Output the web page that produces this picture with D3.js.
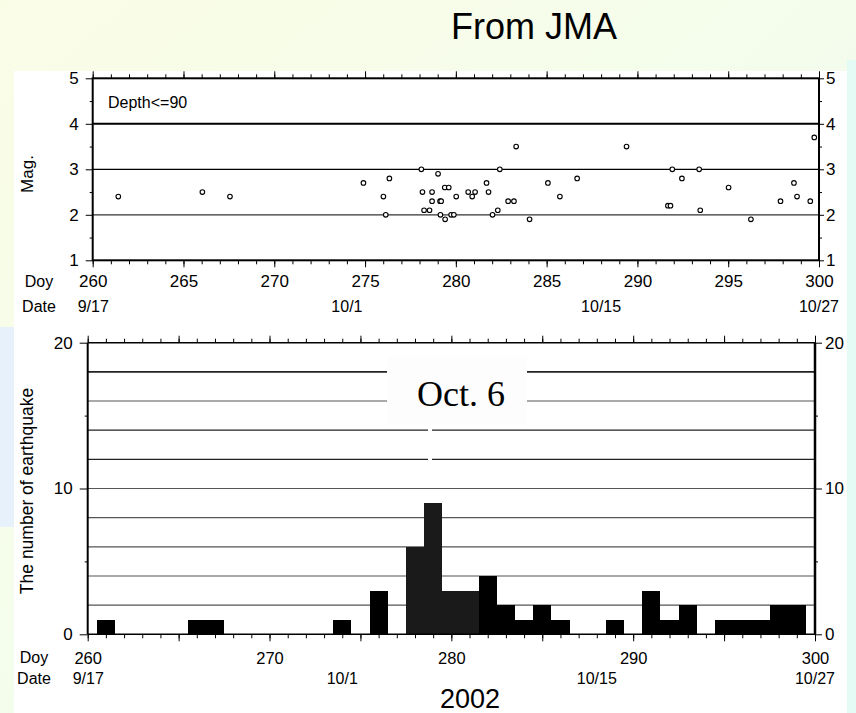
<!DOCTYPE html>
<html>
<head>
<meta charset="utf-8">
<script src="https://cdn.jsdelivr.net/npm/d3@7"></script>
<style>
  body { margin: 0; overflow: hidden; }
  svg { display: block; font-family: "Liberation Sans", Arial, sans-serif; }
</style>
</head>
<body>
<div id="chart"></div>
<script>
// events with depth <= 90 km (day of year, magnitude)
const quakeDoy = [261.41, 266.04, 267.56, 274.91, 276.01, 276.14, 276.34,
  278.10, 278.16, 278.25, 278.55, 278.69, 278.69, 279.02, 279.13, 279.19,
  279.15, 279.39, 279.61, 279.41, 279.74, 279.89, 280.02, 280.68, 280.90,
  281.06, 281.69, 281.80, 282.02, 282.31, 282.42, 282.88, 283.20, 283.32,
  284.06, 285.07, 285.73, 286.68, 289.40, 291.68, 291.82, 291.92, 292.45,
  293.40, 293.46, 295.02, 296.25, 297.88, 298.62, 298.79, 299.52, 299.74];
const quakeMag = [2.4, 2.5, 2.4, 2.7, 2.4, 2.0, 2.8,
  3.0, 2.5, 2.1, 2.1, 2.5, 2.3, 2.9, 2.3, 2.3,
  2.0, 2.6, 2.6, 1.9, 2.0, 2.0, 2.4, 2.5, 2.4,
  2.5, 2.7, 2.5, 2.0, 2.1, 3.0, 2.3, 2.3, 3.5,
  1.9, 2.7, 2.4, 2.8, 3.5, 2.2, 2.2, 3.0, 2.8,
  3.0, 2.1, 2.6, 1.9, 2.3, 2.7, 2.4, 2.3, 3.7];

// daily number of earthquakes
const countDays = [260, 261, 262, 263, 264, 265, 266, 267, 268, 269,
  270, 271, 272, 273, 274, 275, 276, 277, 278, 279,
  280, 281, 282, 283, 284, 285, 286, 287, 288, 289,
  290, 291, 292, 293, 294, 295, 296, 297, 298, 299];
const dayCounts = [0, 1, 0, 0, 0, 0, 1, 1, 0, 0,
  0, 0, 0, 0, 1, 0, 3, 0, 6, 9,
  3, 3, 4, 2, 1, 2, 1, 0, 0, 1,
  0, 3, 1, 2, 0, 1, 1, 1, 2, 2];

// ticks
const minorDays = [260, 261, 262, 263, 264, 265, 266, 267, 268, 269, 270, 271, 272, 273,
  274, 275, 276, 277, 278, 279, 280, 281, 282, 283, 284, 285, 286, 287, 288, 289,
  290, 291, 292, 293, 294, 295, 296, 297, 298, 299, 300];
const fiveDays = [260, 265, 270, 275, 280, 285, 290, 295, 300];
const tenDays = [260, 270, 280, 290, 300];
const dateDays = [260, 274, 288, 300];
const dateLabels = ['9/17', '10/1', '10/15', '10/27'];
const magTicks = [1, 2, 3, 4, 5];
const magMinor = [1.5, 2.5, 3.5, 4.5];
const magGrid = [2, 3, 4];
const countTicks = [0, 10, 20];
const countMinor = [5, 15];
const countGrid = [2, 4, 6, 8, 10, 12, 14, 16, 18];

const W = 856, H = 713;

const svg = d3.select('#chart').append('svg')
    .attr('width', W)
    .attr('height', H);

// slide background
const grad = svg.append('defs').append('linearGradient')
    .attr('id', 'bg')
    .attr('x1', '0%').attr('y1', '0%')
    .attr('x2', '100%').attr('y2', '100%');
grad.append('stop').attr('offset', '0%').attr('stop-color', '#fafde6');
grad.append('stop').attr('offset', '100%').attr('stop-color', '#eefcf2');
svg.append('rect').attr('width', W).attr('height', H).attr('fill', 'url(#bg)');
svg.append('rect').attr('x', 0).attr('y', 327).attr('width', 14).attr('height', 200)
    .attr('fill', '#e6f1fb');
svg.append('rect').attr('x', 847).attr('y', 60).attr('width', 9).attr('height', H - 60)
    .attr('fill', '#e4faf4');
svg.append('rect').attr('x', 14).attr('y', 71).attr('width', 833).attr('height', H - 71)
    .attr('fill', '#fff');

svg.append('text')
    .attr('x', 451).attr('y', 39)
    .attr('font-size', 36)
    .text('From JMA');

// helper to draw an axis and strip its default styling
function drawAxis(g, axis, fontSize) {
  g.call(axis);
  g.attr('font-family', null).attr('font-size', fontSize || 16);
  g.select('.domain').remove();
  g.selectAll('line').attr('stroke', '#000');
  g.selectAll('text').attr('fill', '#000');
  return g;
}
const intFmt = d3.format('d');

// ---------- magnitude plot ----------
const x1 = d3.scaleLinear().domain([260, 300]).range([92.7, 819]);
const y1 = d3.scaleLinear().domain([1, 5]).range([260.3, 78.3]);

const magPanel = svg.append('g');

magPanel.selectAll('.grid')
    .data(magGrid)
    .enter().append('line')
    .attr('x1', x1(260)).attr('x2', x1(300))
    .attr('y1', (d) => y1(d)).attr('y2', (d) => y1(d))
    .attr('stroke', (d) => d === 2 ? '#333' : '#000')
    .attr('stroke-width', (d) => d === 4 ? 2 : 1.2);

drawAxis(magPanel.append('g').attr('transform', `translate(0,${y1(1)})`),
    d3.axisBottom(x1).tickValues(minorDays).tickSize(4).tickFormat(''));
drawAxis(magPanel.append('g').attr('transform', `translate(0,${y1(1)})`),
    d3.axisBottom(x1).tickValues(fiveDays).tickSize(7).tickPadding(8).tickFormat(intFmt), 17);
drawAxis(magPanel.append('g').attr('transform', `translate(0,${y1(5)})`),
    d3.axisTop(x1).tickValues(minorDays).tickSize(4).tickFormat(''));
drawAxis(magPanel.append('g').attr('transform', `translate(0,${y1(5)})`),
    d3.axisTop(x1).tickValues(fiveDays).tickSize(7).tickFormat(''));
drawAxis(magPanel.append('g').attr('transform', `translate(${x1(260)},0)`),
    d3.axisLeft(y1).tickValues(magTicks).tickSize(7).tickPadding(7).tickFormat(intFmt), 17);
drawAxis(magPanel.append('g').attr('transform', `translate(${x1(260)},0)`),
    d3.axisLeft(y1).tickValues(magMinor).tickSize(3).tickFormat(''));
drawAxis(magPanel.append('g').attr('transform', `translate(${x1(300)},0)`),
    d3.axisRight(y1).tickValues(magTicks).tickSize(5).tickPadding(2).tickFormat(intFmt), 17);
drawAxis(magPanel.append('g').attr('transform', `translate(${x1(300)},0)`),
    d3.axisRight(y1).tickValues(magMinor).tickSize(3).tickFormat(''));

magPanel.append('rect')
    .attr('x', x1(260)).attr('y', y1(5))
    .attr('width', x1(300) - x1(260)).attr('height', y1(1) - y1(5))
    .attr('fill', 'none').attr('stroke', '#000').attr('stroke-width', 2);

magPanel.selectAll('.dot')
    .data(quakeDoy)
    .enter().append('circle')
    .attr('cx', (d) => x1(d))
    .attr('cy', (d, i) => y1(quakeMag[i]))
    .attr('r', 2.3)
    .attr('fill', '#fff')
    .attr('stroke', '#000')
    .attr('stroke-width', 1.1);

magPanel.append('text').attr('x', 108).attr('y', 108).attr('font-size', 16).text('Depth<=90');
magPanel.append('text')
    .attr('transform', 'translate(33,174) rotate(-90)')
    .attr('text-anchor', 'middle')
    .attr('font-size', 17)
    .text('Mag.');
magPanel.append('text').attr('x', 39).attr('y', 287).attr('text-anchor', 'middle')
    .attr('font-size', 16).text('Doy');
magPanel.append('text').attr('x', 39).attr('y', 312).attr('text-anchor', 'middle')
    .attr('font-size', 16).text('Date');
magPanel.selectAll('.date')
    .data(dateDays)
    .enter().append('text')
    .attr('x', (d) => x1(d))
    .attr('y', 312)
    .attr('text-anchor', (d, i) => i === 0 ? 'start' : 'middle')
    .attr('dx', (d, i) => i === 0 ? -15 : 0)
    .attr('font-size', 16)
    .text((d, i) => dateLabels[i]);

// ---------- daily count histogram ----------
const x2 = d3.scaleLinear().domain([260, 300]).range([87.7, 815]);
const y2 = d3.scaleLinear().domain([0, 20]).range([634.3, 342.7]);

const countPanel = svg.append('g');

countPanel.selectAll('.grid')
    .data(countGrid)
    .enter().append('line')
    .attr('x1', x2(260)).attr('x2', x2(300))
    .attr('y1', (d) => y2(d)).attr('y2', (d) => y2(d))
    .attr('stroke', (d) => (d === 18 || d === 14 || d === 12) ? '#222' : '#555')
    .attr('stroke-width', (d) => d === 18 ? 1.6 : 1.2);

countPanel.selectAll('.bar')
    .data(countDays)
    .enter().append('rect')
    .attr('x', (d) => x2(d - 0.5))
    .attr('width', (d) => x2(d + 0.5) - x2(d - 0.5))
    .attr('y', (d, i) => y2(dayCounts[i]))
    .attr('height', (d, i) => y2(0) - y2(dayCounts[i]))
    .attr('shape-rendering', 'crispEdges')
    .attr('fill', (d) => (d >= 278 && d <= 281) ? '#1a1a1a' : '#000');

drawAxis(countPanel.append('g').attr('transform', `translate(0,${y2(0)})`),
    d3.axisBottom(x2).tickValues(minorDays).tickSize(4).tickFormat(''));
drawAxis(countPanel.append('g').attr('transform', `translate(0,${y2(0)})`),
    d3.axisBottom(x2).tickValues(fiveDays).tickSize(7).tickFormat(''));
drawAxis(countPanel.append('g').attr('transform', `translate(0,${y2(0)})`),
    d3.axisBottom(x2).tickValues(tenDays).tickSize(0).tickPadding(18).tickFormat(intFmt), 16.5);
drawAxis(countPanel.append('g').attr('transform', `translate(0,${y2(20)})`),
    d3.axisTop(x2).tickValues(minorDays).tickSize(4).tickFormat(''));
drawAxis(countPanel.append('g').attr('transform', `translate(0,${y2(20)})`),
    d3.axisTop(x2).tickValues(fiveDays).tickSize(7).tickFormat(''));
drawAxis(countPanel.append('g').attr('transform', `translate(${x2(260)},0)`),
    d3.axisLeft(y2).tickValues(countTicks).tickSize(8).tickPadding(7).tickFormat(intFmt), 17);
drawAxis(countPanel.append('g').attr('transform', `translate(${x2(260)},0)`),
    d3.axisLeft(y2).tickValues(countMinor).tickSize(3).tickFormat(''));
drawAxis(countPanel.append('g').attr('transform', `translate(${x2(300)},0)`),
    d3.axisRight(y2).tickValues(countTicks).tickSize(7).tickPadding(3).tickFormat(intFmt), 17);
drawAxis(countPanel.append('g').attr('transform', `translate(${x2(300)},0)`),
    d3.axisRight(y2).tickValues(countMinor).tickSize(3).tickFormat(''));

// frame lines
countPanel.append('line').attr('x1', x2(260)).attr('x2', x2(300))
    .attr('y1', y2(20)).attr('y2', y2(20)).attr('stroke', '#000').attr('stroke-width', 1.4);
countPanel.append('line').attr('x1', x2(260)).attr('x2', x2(300))
    .attr('y1', y2(0)).attr('y2', y2(0)).attr('stroke', '#000').attr('stroke-width', 1.6);
countPanel.append('line').attr('x1', x2(260)).attr('x2', x2(260))
    .attr('y1', y2(20)).attr('y2', y2(0)).attr('stroke', '#000').attr('stroke-width', 2);
countPanel.append('line').attr('x1', x2(300)).attr('x2', x2(300))
    .attr('y1', y2(20)).attr('y2', y2(0)).attr('stroke', '#000').attr('stroke-width', 2.5);

// "Oct. 6" label box
countPanel.append('rect').attr('x', 387).attr('y', 356).attr('width', 140).attr('height', 69)
    .attr('fill', '#fdfdfd');
countPanel.append('rect').attr('x', 428).attr('y', 425).attr('width', 4).attr('height', 38)
    .attr('fill', '#fff');
countPanel.append('text')
    .attr('x', 417).attr('y', 405.7)
    .attr('font-family', '"Liberation Serif", "Times New Roman", serif')
    .attr('font-size', 36)
    .text('Oct. 6');

countPanel.append('text')
    .attr('transform', 'translate(33,491) rotate(-90)')
    .attr('text-anchor', 'middle')
    .attr('font-size', 17.5)
    .text('The number of earthquake');
countPanel.append('text').attr('x', 34).attr('y', 663).attr('text-anchor', 'middle')
    .attr('font-size', 16).text('Doy');
countPanel.append('text').attr('x', 34).attr('y', 684).attr('text-anchor', 'middle')
    .attr('font-size', 16).text('Date');
countPanel.selectAll('.date')
    .data(dateDays)
    .enter().append('text')
    .attr('x', (d) => x2(d))
    .attr('y', 684)
    .attr('text-anchor', (d, i) => i === 0 ? 'start' : 'middle')
    .attr('dx', (d, i) => i === 0 ? -15 : 0)
    .attr('font-size', 16)
    .text((d, i) => dateLabels[i]);
countPanel.append('text')
    .attr('x', 470).attr('y', 708)
    .attr('text-anchor', 'middle')
    .attr('font-size', 27)
    .text('2002');
</script>
</body>
</html>
